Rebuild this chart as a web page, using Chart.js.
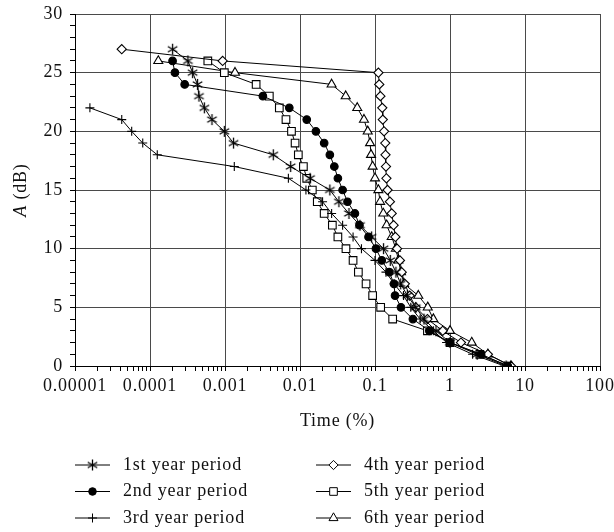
<!DOCTYPE html>
<html>
<head>
<meta charset="utf-8">
<script src="https://cdn.jsdelivr.net/npm/chart.js@4/dist/chart.umd.min.js"></script>
<style>
  html, body { margin: 0; padding: 0; background: #fff; }
  #wrap { width: 614px; height: 532px; position: relative; }
</style>
</head>
<body>
<div id="wrap"><canvas id="chart"></canvas></div>
<script>
// attenuation levels (dB) and exceeded time (%) for each year period
const seriesNames = ['1st year period', '2nd year period', '3rd year period',
                     '4th year period', '5th year period', '6th year period'];

const yr1Db = [27, 26, 25, 24, 23, 22, 21, 20, 19, 18, 17, 16, 15, 14, 13, 12, 11, 10, 9, 8, 7, 6, 5, 4, 3, 2, 1, 0];
const yr1Time = [0.0002, 0.00032, 0.00037, 0.00043, 0.00045, 0.00053, 0.00067, 0.00098, 0.0013, 0.0044,
                 0.0075, 0.0136, 0.025, 0.033, 0.045, 0.063, 0.09, 0.13, 0.16, 0.19, 0.22, 0.27, 0.35,
                 0.45, 0.65, 1.0, 2.3, 5.6];

const yr2Db = [26, 25, 24, 23, 22, 21, 20, 19, 18, 17, 16, 15, 14, 13, 12, 11, 10, 9, 8, 7, 6, 5, 4, 3, 2, 1, 0];
const yr2Time = [0.0002, 0.000215, 0.00029, 0.0032, 0.0072, 0.0123, 0.0163, 0.021, 0.025, 0.0287, 0.032,
                 0.037, 0.043, 0.054, 0.062, 0.082, 0.103, 0.123, 0.155, 0.179, 0.185, 0.222, 0.32, 0.53,
                 1.0, 2.6, 5.9];

const yr3Db = [22, 21, 20, 19, 18, 17, 16, 15, 14, 13, 12, 11, 10, 9, 8, 7, 6, 5, 4, 3, 2, 1, 0];
const yr3Time = [0.0000158, 0.000042, 0.000057, 0.00008, 0.000125, 0.00133, 0.007, 0.012, 0.02, 0.0264,
                 0.037, 0.051, 0.066, 0.1, 0.14, 0.18, 0.24, 0.3, 0.4, 0.6, 0.9, 2.0, 5.3];

const yr4Db = [27, 26, 25, 24, 23, 22, 21, 20, 19, 18, 17, 16, 15, 14, 13, 12, 11, 10, 9, 8, 7, 6, 5, 4, 3, 2, 1, 0];
const yr4Time = [0.000042, 0.00093, 0.111, 0.114, 0.118, 0.125, 0.127, 0.132, 0.137, 0.138, 0.14, 0.142,
                 0.147, 0.158, 0.167, 0.177, 0.187, 0.197, 0.215, 0.227, 0.25, 0.29, 0.35, 0.5, 0.8,
                 1.4, 3.2, 6.5];

const yr5Db = [26, 25, 24, 23, 22, 21, 20, 19, 18, 17, 16, 15, 14, 13, 12, 11, 10, 9, 8, 7, 6, 5, 4, 3, 2, 1, 0];
const yr5Time = [0.00059, 0.00098, 0.0026, 0.0039, 0.0053, 0.0065, 0.0077, 0.0086, 0.0095, 0.0111, 0.0123,
                 0.0146, 0.017, 0.021, 0.027, 0.032, 0.041, 0.051, 0.06, 0.076, 0.093, 0.119, 0.172, 0.5,
                 1.0, 2.5, 6.0];

const yr6Db = [26, 25, 24, 23, 22, 21, 20, 19, 18, 17, 16, 15, 14, 13, 12, 11, 10, 9, 8, 7, 6, 5, 4, 3, 2, 1, 0];
const yr6Time = [0.000129, 0.00136, 0.0264, 0.0407, 0.058, 0.0713, 0.08, 0.086, 0.0885, 0.093, 0.1, 0.111,
                 0.117, 0.129, 0.143, 0.167, 0.19, 0.205, 0.222, 0.244, 0.378, 0.505, 0.6, 1.0, 1.95,
                 3.2, 6.5];

const xTickLabels = ['0.00001', '0.0001', '0.001', '0.01', '0.1', '1', '10', '100'];
const yTickLabels = ['0', '5', '10', '15', '20', '25', '30'];

const FONT = '"Liberation Serif", "Times New Roman", serif';
const FSIZE = 18;
const GRID = '#4a4a4a';
const INK = '#111';

function pairs(xs, ys) {
  return xs.map((x, i) => ({ x: x, y: ys[i] }));
}

// six-armed asterisk marker
function asteriskMarker() {
  const c = document.createElement('canvas');
  c.width = 13; c.height = 13;
  const g = c.getContext('2d');
  g.strokeStyle = '#000';
  g.lineWidth = 1.3;
  const r = 5.5;
  for (const a of [90, 30, 150]) {
    const rad = a * Math.PI / 180;
    g.beginPath();
    g.moveTo(6.5 - r * Math.cos(rad), 6.5 - r * Math.sin(rad));
    g.lineTo(6.5 + r * Math.cos(rad), 6.5 + r * Math.sin(rad));
    g.stroke();
  }
  return c;
}

function makeSet(label, xs, ys, style, radius, fill) {
  return {
    label: label,
    data: pairs(xs, ys),
    showLine: true,
    borderColor: '#000',
    borderWidth: 1,
    pointStyle: style,
    pointRadius: radius,
    pointBorderColor: '#000',
    pointBackgroundColor: fill,
    pointBorderWidth: 1.1,
    tension: 0,
  };
}

const datasets = [
  makeSet(seriesNames[0], yr1Time, yr1Db, asteriskMarker(), 5, '#000'),
  makeSet(seriesNames[1], yr2Time, yr2Db, 'circle', 3.8, '#000'),
  makeSet(seriesNames[2], yr3Time, yr3Db, 'cross', 4.5, '#000'),
  makeSet(seriesNames[3], yr4Time, yr4Db, 'rectRot', 4.6, '#fff'),
  makeSet(seriesNames[4], yr5Time, yr5Db, 'rect', 5.4, '#fff'),
  makeSet(seriesNames[5], yr6Time, yr6Db, 'triangle', 5.2, '#fff'),
];

const textSpacing = {
  id: 'textSpacing',
  beforeDraw(chart) { chart.ctx.letterSpacing = '0.8px'; },
};

// y axis title with italic A
const yTitle = {
  id: 'yTitle',
  afterDraw(chart) {
    const ctx = chart.ctx;
    const a = chart.chartArea;
    ctx.save();
    ctx.translate(21, (a.top + a.bottom) / 2);
    ctx.rotate(-Math.PI / 2);
    ctx.fillStyle = INK;
    ctx.textBaseline = 'middle';
    ctx.font = 'italic ' + FSIZE + 'px ' + FONT;
    const w1 = ctx.measureText('A').width;
    ctx.font = FSIZE + 'px ' + FONT;
    const w2 = ctx.measureText(' (dB)').width;
    const x = -(w1 + w2) / 2;
    ctx.textAlign = 'left';
    ctx.font = 'italic ' + FSIZE + 'px ' + FONT;
    ctx.fillText('A', x, 0);
    ctx.font = FSIZE + 'px ' + FONT;
    ctx.fillText(' (dB)', x + w1, 0);
    ctx.restore();
  },
};

// two column legend under the axis title
const sideLegend = {
  id: 'sideLegend',
  afterDraw(chart) {
    const ctx = chart.ctx;
    ctx.save();
    chart.data.datasets.forEach((ds, i) => {
      const col = i < 3 ? 0 : 1;
      const row = i % 3;
      const x0 = col ? 316 : 75;
      const y = 465 + row * 26.5;
      ctx.strokeStyle = '#000';
      ctx.lineWidth = 1;
      ctx.beginPath();
      ctx.moveTo(x0, y);
      ctx.lineTo(x0 + 35, y);
      ctx.stroke();
      ctx.fillStyle = ds.pointBackgroundColor;
      ctx.strokeStyle = '#000';
      Chart.helpers.drawPoint(ctx, {
        pointStyle: ds.pointStyle, radius: ds.pointRadius, rotation: 0, borderWidth: 1,
      }, x0 + 17.5, y);
      ctx.fillStyle = INK;
      ctx.font = FSIZE + 'px ' + FONT;
      ctx.textAlign = 'left';
      ctx.textBaseline = 'middle';
      ctx.fillText(ds.label, x0 + 48, y);
    });
    ctx.restore();
  },
};

Chart.defaults.font.family = FONT;
Chart.defaults.font.size = FSIZE;
Chart.defaults.color = INK;

new Chart(document.getElementById('chart'), {
  type: 'scatter',
  data: { datasets: datasets },
  plugins: [textSpacing, yTitle, sideLegend],
  options: {
    animation: false,
    responsive: true,
    maintainAspectRatio: false,
    events: [],
    layout: { padding: { left: 0, right: 14, top: 14, bottom: 100 } },
    scales: {
      x: {
        type: 'logarithmic',
        min: 0.00001,
        max: 100,
        afterBuildTicks(scale) {
          const ticks = [];
          for (let e = -5; e <= 2; e++) {
            for (let s = 1; s <= 9; s++) {
              if (e === 2 && s > 1) break;
              ticks.push({ value: s * Math.pow(10, e) });
            }
          }
          scale.ticks = ticks;
        },
        afterFit(scale) {
          scale.height = 66;
          scale.paddingLeft = 0;
          scale.paddingRight = 0;
        },
        ticks: {
          autoSkip: false,
          maxRotation: 0,
          padding: 4,
          callback(value) {
            const e = Math.log10(value);
            const r = Math.round(e);
            if (Math.abs(e - r) < 1e-9) return xTickLabels[r + 5];
            return '';
          },
        },
        grid: {
          color(ctx) {
            if (!ctx.tick) return 'transparent';
            const e = Math.log10(ctx.tick.value);
            return Math.abs(e - Math.round(e)) < 1e-9 ? GRID : 'transparent';
          },
          tickColor: '#000',
          tickLength: 5,
          lineWidth: 1,
        },
        border: { color: '#000', width: 1 },
        title: {
          display: true,
          text: 'Time (%)',
          padding: { top: 0, bottom: 0 },
          font: { size: FSIZE },
        },
      },
      y: {
        min: 0,
        max: 30,
        afterFit(scale) {
          scale.width = 75;
          scale.paddingTop = 0;
          scale.paddingBottom = 0;
        },
        ticks: {
          stepSize: 1,
          autoSkip: false,
          padding: 7,
          callback(value) {
            return value % 5 === 0 ? yTickLabels[value / 5] : '';
          },
        },
        grid: {
          color(ctx) {
            return ctx.tick && ctx.tick.value % 5 === 0 ? GRID : 'transparent';
          },
          tickColor: '#000',
          tickLength: 5,
          lineWidth: 1,
        },
        border: { color: '#000', width: 1 },
      },
    },
    plugins: {
      legend: { display: false },
      tooltip: { enabled: false },
    },
  },
});
</script>
</body>
</html>
